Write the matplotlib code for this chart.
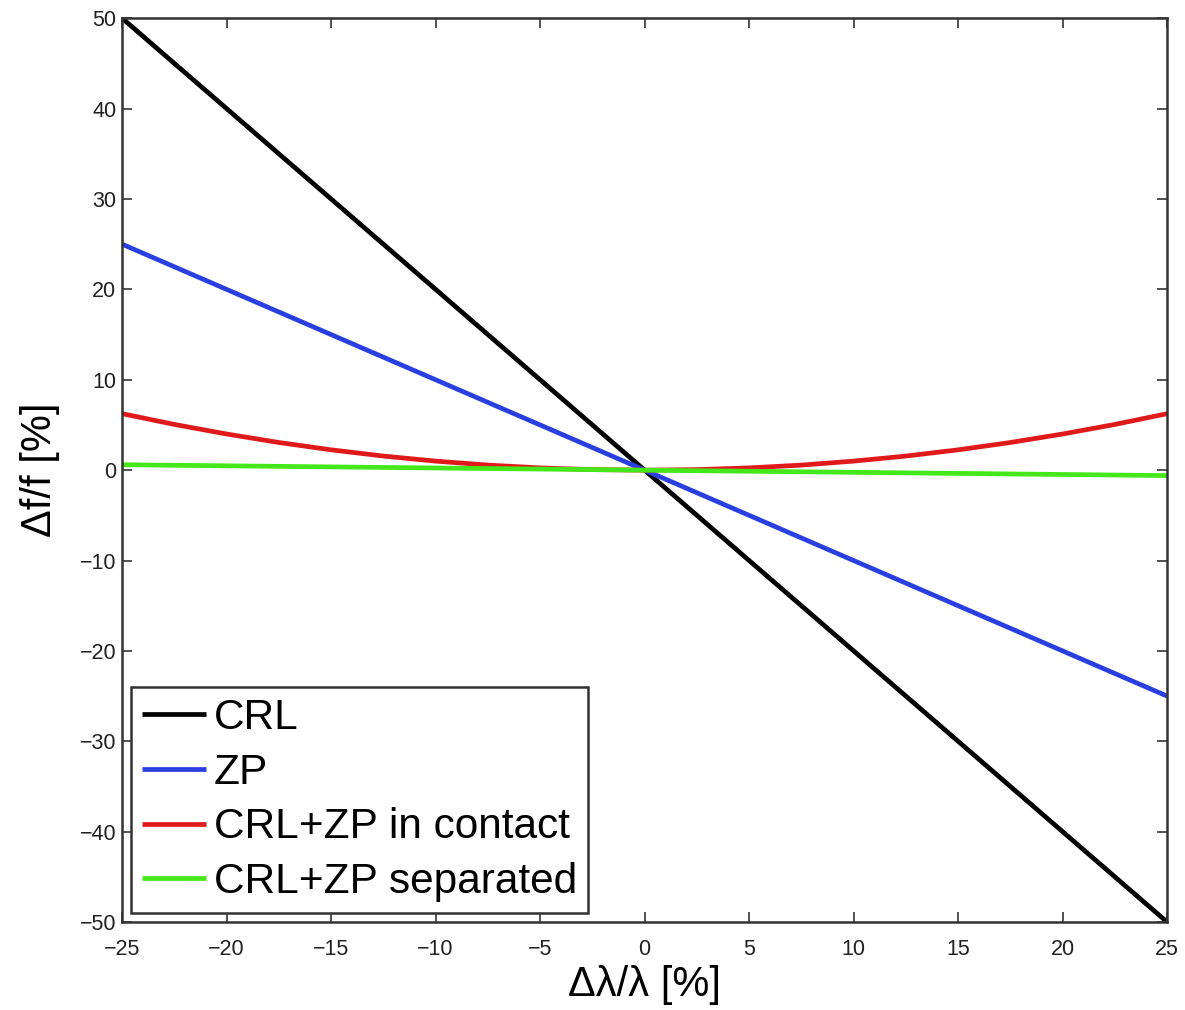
import matplotlib
matplotlib.use("Agg")
import matplotlib.pyplot as plt

plt.rcParams["font.family"] = ["Liberation Sans", "DejaVu Sans"]

# ── Data ─────────────────────────────────────────────────────────────────────
dlam = [-25, -22.5, -20, -17.5, -15, -12.5, -10, -7.5, -5, -2.5, 0,
        2.5, 5, 7.5, 10, 12.5, 15, 17.5, 20, 22.5, 25]
crl = [50, 45, 40, 35, 30, 25, 20, 15, 10, 5, 0,
       -5, -10, -15, -20, -25, -30, -35, -40, -45, -50]
zp = [25, 22.5, 20, 17.5, 15, 12.5, 10, 7.5, 5, 2.5, 0,
      -2.5, -5, -7.5, -10, -12.5, -15, -17.5, -20, -22.5, -25]
contact = [6.25, 5.06, 4.0, 3.06, 2.25, 1.56, 1.0, 0.56, 0.25, 0.06, 0.0,
           0.06, 0.25, 0.56, 1.0, 1.56, 2.25, 3.06, 4.0, 5.06, 6.25]
separated = [0.6, 0.54, 0.48, 0.42, 0.36, 0.3, 0.24, 0.18, 0.12, 0.06, 0.0,
             -0.06, -0.12, -0.18, -0.24, -0.3, -0.36, -0.42, -0.48, -0.54, -0.6]

series_labels = ["CRL", "ZP", "CRL+ZP in contact", "CRL+ZP separated"]
series_colors = ["#000000", "#2a3fe0", "#e01a1a", "#44e81a"]

x_ticks = [-25, -20, -15, -10, -5, 0, 5, 10, 15, 20, 25]
y_ticks = [-50, -40, -30, -20, -10, 0, 10, 20, 30, 40, 50]

# ── Figure ───────────────────────────────────────────────────────────────────
fig = plt.figure(figsize=(11.85, 10.10), dpi=100)
ax = fig.add_axes([0.103, 0.087, 0.882, 0.895])

for ys, lbl, col in zip([crl, zp, contact, separated], series_labels, series_colors):
    ax.plot(dlam, ys, color=col, lw=3.4, label=lbl, solid_capstyle="butt")

ax.set_xlim(-25, 25)
ax.set_ylim(-50, 50)
ax.set_xticks(x_ticks)
ax.set_yticks(y_ticks)
ax.set_xticklabels([str(t).replace("-", "\u2212") for t in x_ticks])
ax.set_yticklabels([str(t).replace("-", "\u2212") for t in y_ticks])
ax.tick_params(direction="in", top=True, right=True, length=7, width=1.2,
               labelsize=15.5, colors="#333333", labelcolor="#222222")
ax.tick_params(axis="x", pad=12)
ax.tick_params(axis="y", pad=4)
for sp in ax.spines.values():
    sp.set_linewidth(1.8)
    sp.set_color("#333333")

ax.set_xlabel("\u0394\u03bb/\u03bb [%]", fontsize=30, labelpad=4)
ax.set_ylabel("\u0394f/f [%]", fontsize=30, labelpad=14)

leg = ax.legend(loc="lower left", fontsize=30.5, frameon=True, fancybox=False,
                handlelength=1.5, handletextpad=0.2, labelspacing=0.35,
                borderpad=0.25, borderaxespad=0.22, framealpha=1.0)
leg.get_frame().set_edgecolor("#333333")
leg.get_frame().set_linewidth(1.8)

fig.savefig("out.png", dpi=100)
